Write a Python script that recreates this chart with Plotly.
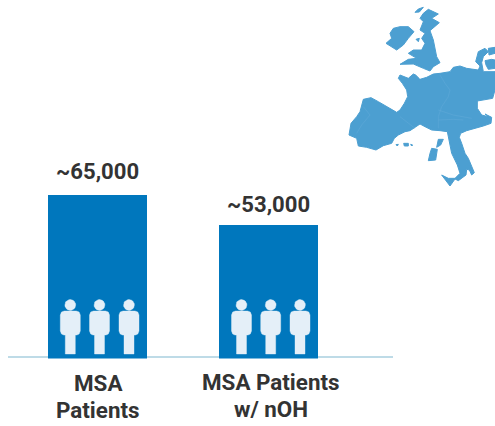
import math
import plotly.graph_objects as go

# Chart data
categories = ["MSA<br>Patients", "MSA Patients<br>w/ nOH"]
patients = [65000, 53000]
value_labels = ["~65,000", "~53,000"]

W, H = 495, 426
BLUE = "#0077bd"
MAP = "#4c9fd1"
BORDER = "#62aad8"
PERSON = "#e4eff8"
TEXT = "#333333"
FONT = "Roboto"


def crop(x0, y0, pts):
    """Outline points traced on a 3x crop of the picture, back to page pixels."""
    return [(x0 + p[0] / 3, y0 + p[1] / 3) for p in pts]


mainland = (
    crop(345, 60, [(55,118),(78,113),(100,125),(125,140),(155,157),(165,150),(178,130),(188,110),(185,90),
                   (172,70),(160,55),(165,45),(180,50),(190,55),(205,42),(212,45),(222,55)])
    + crop(420, 40, [(0,118),(20,112),(40,102),(60,100),(75,97),(90,95),(100,82),(120,78),(140,85),(155,88),
                     (175,90),(180,78),(167,65),(175,35),(195,25),(205,35),(190,50),(185,68),(190,95),
                     (225,95),(225,150),(218,175),(172,183),(172,205),(185,225),(205,230)])
    + crop(420, 110, [(195,12),(215,22),(213,40),(190,48),(165,55),(140,62),(122,70),(118,82),(125,100),
                      (135,130),(145,145),(155,170),(163,188),(155,195),(148,180),(140,178),(138,195),
                      (115,212),(105,207),(90,228),(65,195),(85,205),(105,205),(120,190),(112,165),
                      (95,130),(88,100),(82,65),(60,62),(35,60),(15,50),(0,42)])
    + crop(345, 60, [(195,212),(180,215),(160,225),(148,235),(140,250),(115,257),(93,270),(65,262),(40,258),
                     (35,235),(12,225),(18,190),(35,170),(45,155),(55,118)])
)
danish_isles = crop(420, 40, [(195,62),(215,58),(225,60),(225,85),(205,88),(198,75),(195,62)])
danish_tip = crop(420, 40, [(205,25),(225,22),(225,40),(207,45),(205,25)])
scotland_england = crop(380, 0, [(145,28),(175,42),(155,55),(178,68),(150,92),(160,120),(170,170),(180,188),
                                 (160,200),(150,213),(130,205),(100,192),(60,193),(85,178),(110,175),(85,160),
                                 (100,150),(125,150),(135,130),(125,115),(135,100),(120,90),(130,65),(120,55),
                                 (130,40),(145,28)])
ireland = crop(380, 0, [(40,85),(60,80),(85,80),(102,95),(85,115),(70,135),(50,150),(18,130),(35,115),(30,100),(40,85)])
hebrides = crop(380, 0, [(130,22),(115,27),(105,37),(118,36),(130,22)])
isle_man = crop(380, 0, [(108,118),(118,115),(115,125),(108,118)])
corsica = crop(420, 110, [(55,88),(70,88),(62,105),(50,112),(55,88)])
sardinia = crop(420, 110, [(35,115),(52,118),(47,150),(25,152),(30,130),(35,115)])
mallorca = crop(345, 60, [(176,250),(190,250),(190,258),(178,258),(176,250)])
menorca = crop(345, 60, [(153,254),(160,253),(157,258),(153,254)])
ibiza = crop(345, 60, [(197,253),(203,255),(200,258),(197,253)])
map_shapes = [mainland, danish_isles, danish_tip, scotland_england, ireland, hebrides, isle_man,
              corsica, sardinia, mallorca, menorca, ibiza]
border_lines = [
    crop(345, 60, [(55,140),(75,165),(50,195),(35,220)]),
    crop(345, 60, [(165,170),(195,195),(210,205)]),
    crop(420, 40, [(60,105),(75,130),(90,150),(85,170),(65,200),(55,230),(55,265)]),
    crop(420, 40, [(55,210),(100,225),(155,235)]),
    crop(420, 40, [(55,240),(100,238),(130,240)]),
]

person_centres = [70.3, 99.5, 129, 241.5, 270.7, 300]
person_outline = [(-6, 311), (6, 311), (8.8, 312), (10, 315), (10, 331), (8.8, 334), (6.5, 335), (5, 335),
                  (5, 354), (-5, 354), (-5, 335), (-6.5, 335), (-8.8, 334), (-10, 331), (-10, 315),
                  (-8.8, 312), (-6, 311)]


def filled(xs, ys, color, width=0.4):
    return go.Scatter(x=xs, y=ys, xaxis="x2", yaxis="y2", mode="lines", fill="toself",
                      fillcolor=color, line=dict(color=color, width=width),
                      hoverinfo="skip", showlegend=False)


fig = go.Figure()
fig.add_trace(go.Bar(x=[0, 1], y=patients, width=99.5 / 171,
                     marker=dict(color=BLUE, line=dict(width=0)),
                     hoverinfo="skip", showlegend=False))

for pts in map_shapes:
    fig.add_trace(filled([p[0] for p in pts], [p[1] for p in pts], MAP, width=1))
for pts in border_lines:
    fig.add_trace(go.Scatter(x=[p[0] for p in pts], y=[p[1] for p in pts], xaxis="x2", yaxis="y2",
                             mode="lines", line=dict(color=BORDER, width=0.5),
                             hoverinfo="skip", showlegend=False))
for cx in person_centres:
    angles = [2 * math.pi * i / 24 for i in range(25)]
    fig.add_trace(filled([cx + 5.4 * math.cos(a) for a in angles],
                         [305 + 5.4 * math.sin(a) for a in angles], PERSON))
    fig.add_trace(filled([cx + p[0] for p in person_outline], [p[1] for p in person_outline], PERSON))

fig.add_shape(type="line", xref="paper", yref="paper", layer="below",
              x0=8 / W, x1=393 / W, y0=1 - 357 / H, y1=1 - 357 / H,
              line=dict(color="#a8cfdf", width=1.5))

# Value labels above the bars
value_shifts = [(0, 8.5), (0, 6)]
for i, (val, label) in enumerate(zip(patients, value_labels)):
    fig.add_annotation(x=i, y=val, xref="x", yref="y", text=label, showarrow=False,
                       xanchor="center", yanchor="bottom", xshift=value_shifts[i][0], yshift=value_shifts[i][1],
                       font=dict(family=FONT, size=22.1, color=TEXT, weight="bold"))

# Category labels, one annotation per line for the tight line spacing
line_baselines = [[391.7, 418.3], [390.7, 417.7]]
label_xshift = [0.3, 2.5]
for i, cat in enumerate(categories):
    for line, base in zip(cat.split("<br>"), line_baselines[i]):
        fig.add_annotation(x=i, xref="x", y=1 - (base + 6.5) / H, yref="paper", text=line, showarrow=False,
                           xanchor="center", yanchor="bottom", xshift=label_xshift[i],
                           font=dict(family=FONT, size=22.4, color=TEXT, weight="bold"))

fig.update_layout(
    width=W, height=H, autosize=False,
    margin=dict(l=0, r=0, t=0, b=0, pad=0),
    paper_bgcolor="white", plot_bgcolor="rgba(0,0,0,0)",
    font=dict(family=FONT, color=TEXT),
    bargap=0,
    xaxis=dict(domain=[8 / W, 393 / W], range=[(8 - 97.5) / 171, (393 - 97.5) / 171],
               tickmode="array", tickvals=[0, 1], showticklabels=False,
               ticks="", showgrid=False, zeroline=False, showline=False),
    yaxis=dict(domain=[1 - 358.5 / H, 1], range=[0, 358.5 / 164 * 65000],
               showticklabels=False, ticks="", showgrid=False, zeroline=False, showline=False),
    xaxis2=dict(domain=[0, 1], range=[0, W], visible=False, fixedrange=True, anchor="y2"),
    yaxis2=dict(domain=[0, 1], range=[H, 0], visible=False, fixedrange=True, anchor="x2"),
)

fig.write_html("out.html", config={"displayModeBar": False},
               post_script="document.body.style.margin='0';")
